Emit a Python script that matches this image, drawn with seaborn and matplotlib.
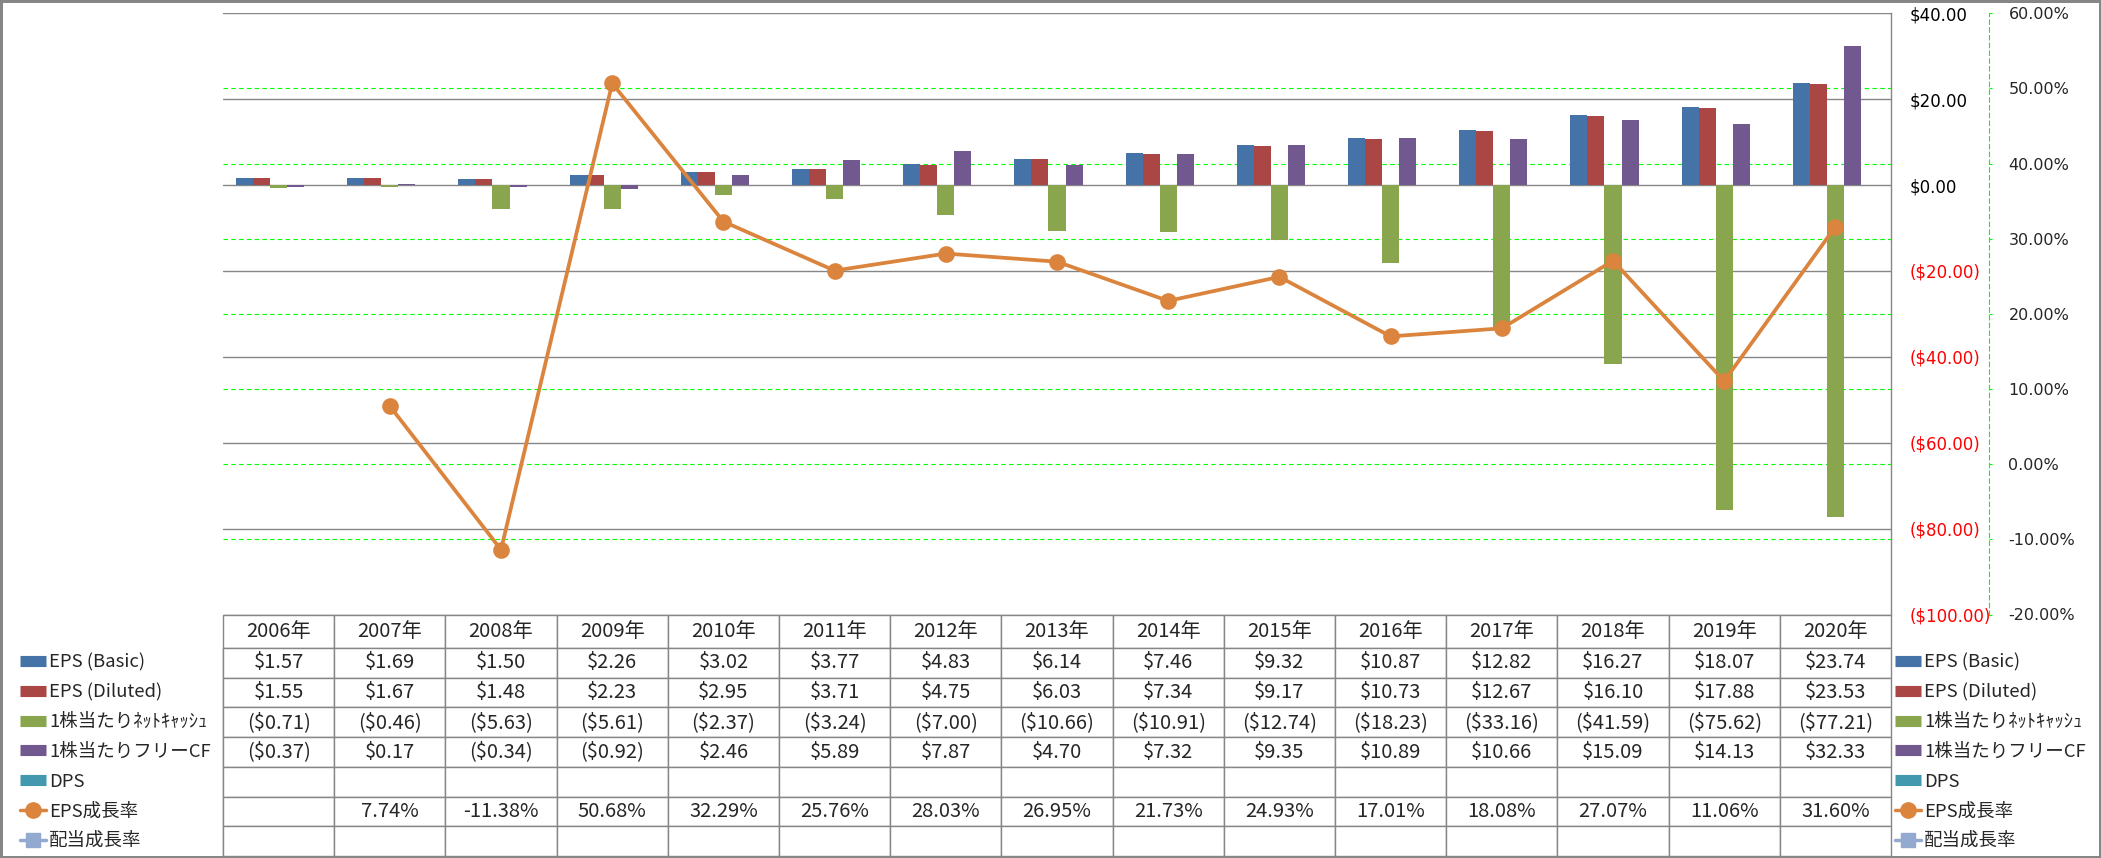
import numpy as np
import pandas as pd
import matplotlib
matplotlib.use("Agg")
import matplotlib.pyplot as plt
from matplotlib.font_manager import FontProperties
from matplotlib.lines import Line2D
import seaborn as sns

# ---- data ----
years = ["2006年", "2007年", "2008年", "2009年", "2010年", "2011年", "2012年", "2013年",
         "2014年", "2015年", "2016年", "2017年", "2018年", "2019年", "2020年"]
eps_basic = [1.57, 1.69, 1.50, 2.26, 3.02, 3.77, 4.83, 6.14, 7.46, 9.32, 10.87, 12.82, 16.27, 18.07, 23.74]
eps_diluted = [1.55, 1.67, 1.48, 2.23, 2.95, 3.71, 4.75, 6.03, 7.34, 9.17, 10.73, 12.67, 16.10, 17.88, 23.53]
net_cash_ps = [-0.71, -0.46, -5.63, -5.61, -2.37, -3.24, -7.00, -10.66, -10.91, -12.74, -18.23,
               -33.16, -41.59, -75.62, -77.21]
fcf_ps = [-0.37, 0.17, -0.34, -0.92, 2.46, 5.89, 7.87, 4.70, 7.32, 9.35, 10.89, 10.66, 15.09, 14.13, 32.33]
dps = [None] * 15
eps_growth = [None, 7.74, -11.38, 50.68, 32.29, 25.76, 28.03, 26.95, 21.73, 24.93, 17.01, 18.08,
              27.07, 11.06, 31.60]
div_growth = [None] * 15

bar_names = ["EPS (Basic)", "EPS (Diluted)", "1株当たりﾈｯﾄｷｬｯｼｭ", "1株当たりフリーCF", "DPS"]
line_names = ["EPS成長率", "配当成長率"]
bar_colors = ["#4572A7", "#AA4643", "#89A54E", "#71588F", "#4198AF"]
line_colors = ["#DB843D", "#93A9CF"]

money_ticks = [-100, -80, -60, -40, -20, 0, 20, 40]
pct_ticks = [-20, -10, 0, 10, 20, 30, 40, 50, 60]

GRID_GRAY = "#868686"
GREEN = "#00FF00"
DASH = (0, (4, 3))

W, H = 2101, 858
ROW_H = 29.7      # table row height in px
HEAD_H = 33       # table header height in px


def fmt_money(v):
    if v is None:
        return ""
    return f"${v:.2f}" if v >= 0 else f"(${-v:.2f})"


def fmt_pct(v):
    if v is None:
        return ""
    return f"{v:.2f}%"


sns.set_style("white")
plt.rcParams["font.family"] = ["DejaVu Sans", "Noto Sans CJK JP"]
tprop = FontProperties(family=["Noto Sans CJK JP", "DejaVu Sans"], size=14.5)
lprop = FontProperties(family=["Noto Sans CJK JP", "DejaVu Sans"], size=13.3)

bar_series = [eps_basic, eps_diluted, net_cash_ps, fcf_ps, dps]
rows = []
for name, vals in zip(bar_names, bar_series):
    for yr, v in zip(years, vals):
        if v is not None:
            rows.append({"year": yr, "series": name, "value": v})
bars_df = pd.DataFrame(rows)

line_df = pd.DataFrame({
    "pos": np.arange(len(years)),
    "growth": [np.nan if v is None else v for v in eps_growth],
}).dropna()

fig = plt.figure(figsize=(W / 100, H / 100), dpi=100, facecolor="white",
                 edgecolor=GRID_GRAY, linewidth=2.5)

ax = fig.add_axes([223 / W, 1 - 614.5 / H, (1891 - 223) / W, (614.5 - 13.3) / H])

# secondary (percent) axis: gridlines and dashed spine, drawn behind the bars
ax2 = ax.twinx()
# separate twin for the growth line so it sits above the bars
ax3 = ax.twinx()
ax2.set_zorder(1)
ax.set_zorder(2)
ax3.set_zorder(3)
ax.patch.set_visible(False)

sns.barplot(data=bars_df, x="year", y="value", hue="series", order=years,
            hue_order=bar_names, palette=dict(zip(bar_names, bar_colors)),
            width=0.765, gap=0, errorbar=None, saturation=1, linewidth=0,
            legend=False, ax=ax)

ax.set_xlim(-0.5, len(years) - 0.5)
ax.set_ylim(min(money_ticks), max(money_ticks))
ax.set_xlabel("")
ax.set_ylabel("")
ax.tick_params(axis="x", bottom=False, labelbottom=False)
ax.set_yticks(money_ticks)
ax.set_yticklabels([fmt_money(t) for t in money_ticks])
ax.yaxis.tick_right()
ax.tick_params(axis="y", left=False, labelleft=False, right=False, labelright=True,
               length=0, pad=13.5, labelsize=12)
for lab, t in zip(ax.get_yticklabels(), money_ticks):
    lab.set_color("red" if t < 0 else "black")
ax.grid(axis="y", color=GRID_GRAY, linewidth=1.0)
ax.set_axisbelow(True)
for side in ["left", "top", "bottom"]:
    ax.spines[side].set_visible(False)
ax.spines["right"].set_color(GRID_GRAY)
ax.spines["right"].set_linewidth(1.0)

ax2.set_ylim(min(pct_ticks), max(pct_ticks))
ax2.set_yticks(pct_ticks)
ax2.set_yticklabels([fmt_pct(t) for t in pct_ticks])
for lab, t in zip(ax2.get_yticklabels(), pct_ticks):
    lab.set_color("red" if t < 0 else "black")
ax2.tick_params(axis="y", right=True, direction="out", length=2.5, width=0.8,
                color=GREEN, pad=11.5, labelsize=11.5)
ax2.grid(axis="y", color=GREEN, linestyle=DASH, linewidth=0.8)
for side in ["left", "top", "bottom"]:
    ax2.spines[side].set_visible(False)
ax2.spines["right"].set_position(("outward", 98 * 72 / 100))
ax2.spines["right"].set_color(GREEN)
ax2.spines["right"].set_linestyle(DASH)
ax2.spines["right"].set_linewidth(0.8)

sns.lineplot(data=line_df, x="pos", y="growth", ax=ax3, color=line_colors[0],
             linewidth=2.7, marker="o", markersize=12, markeredgewidth=0)
ax3.set_ylim(min(pct_ticks), max(pct_ticks))
ax3.axis("off")

# ---- data table below the plot (year columns line up with the categories) ----
tab_ax = fig.add_axes([223 / W, 1 - 856 / H, (1891 - 223) / W, (856 - 615) / H])
tab_ax.axis("off")

cell_text = [
    [fmt_money(v) for v in eps_basic],
    [fmt_money(v) for v in eps_diluted],
    [fmt_money(v) for v in net_cash_ps],
    [fmt_money(v) for v in fcf_ps],
    [fmt_money(v) for v in dps],
    [fmt_pct(v) for v in eps_growth],
    [fmt_pct(v) for v in div_growth],
]
table = tab_ax.table(cellText=cell_text, rowLabels=[""] * len(cell_text),
                     colLabels=years, cellLoc="center", bbox=[0, 0, 1, 1])
table.auto_set_font_size(False)
table.set_clip_on(False)
for (r, c), cell in table.get_celld().items():
    cell.set_edgecolor(GRID_GRAY)
    cell.set_linewidth(1.0)
    cell.set_width(207 if c == -1 else 111.2)
    cell.set_height(HEAD_H if r == 0 else ROW_H)
    cell.set_clip_on(False)
    cell.get_text().set_fontproperties(tprop)
    cell.get_text().set_clip_on(False)

# legend keys: one entry per table row, at the left inside the table and at the right of it
handles = [Line2D([], [], color=c, linewidth=8, solid_capstyle="butt") for c in bar_colors]
handles.append(Line2D([], [], color=line_colors[0], linewidth=2.5, marker="o", markersize=11))
handles.append(Line2D([], [], color=line_colors[1], linewidth=2.5, marker="s", markersize=10))
labels = bar_names + line_names

fs_px = 13.3 * 100 / 72
for x0 in (20, 1895):
    for i, (hd, lb) in enumerate(zip(handles, labels)):
        yc = 615 + HEAD_H + ROW_H * (i + 0.5)
        fig.legend([hd], [lb], loc="center left",
                   bbox_to_anchor=(x0 / W, 1 - yc / H), bbox_transform=fig.transFigure,
                   prop=lprop, frameon=False, borderpad=0, borderaxespad=0,
                   handlelength=26 / fs_px, handletextpad=3 / fs_px)

fig.savefig("out.png", dpi=100)
